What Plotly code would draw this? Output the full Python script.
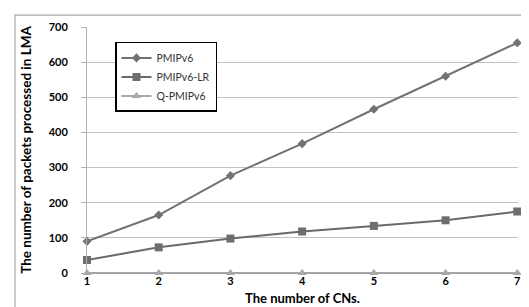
import plotly.graph_objects as go

cns = [1, 2, 3, 4, 5, 6, 7]
pmipv6 = [90, 165, 277, 368, 466, 560, 655]
pmipv6_lr = [37, 73, 98, 118, 134, 150, 175]
q_pmipv6 = [0, 0, 0, 0, 0, 0, 0]

W, H = 529, 307
L, R, T, B = 79, 19, 18, 41
pw, ph = W - L - R, H - T - B

def px(x):
    return (x - L) / pw

def py(y):
    return (H - B - y) / ph

FONT = "Lato"

fig = go.Figure()
fig.add_trace(go.Scatter(x=cns, y=pmipv6, name="PMIPv6", mode="lines+markers",
                         line=dict(color="#727272", width=2),
                         marker=dict(symbol="diamond", size=7, color="#727272"),
                         cliponaxis=False))
fig.add_trace(go.Scatter(x=cns, y=pmipv6_lr, name="PMIPv6-LR", mode="lines+markers",
                         line=dict(color="#6a6a6a", width=2),
                         marker=dict(symbol="square", size=8, color="#6e6e6e"),
                         cliponaxis=False))
fig.add_trace(go.Scatter(x=cns, y=q_pmipv6, name="Q-PMIPv6", mode="lines+markers",
                         line=dict(color="#a8a8a8", width=2),
                         marker=dict(symbol="triangle-up", size=8, color="#a8a8a8"),
                         cliponaxis=False))

fig.add_shape(type="rect", xref="paper", yref="paper",
              x0=px(7), x1=px(540), y0=py(320), y1=py(6),
              line=dict(color="#a8a8a8", width=1.2), layer="below")

fig.update_layout(
    width=W, height=H,
    margin=dict(l=L, r=R, t=T, b=B),
    paper_bgcolor="white", plot_bgcolor="white",
    font=dict(family=FONT, color="#000000"),
    showlegend=True,
    legend=dict(x=px(107), y=py(33), xanchor="left", yanchor="top",
                bgcolor="white", bordercolor="#000000", borderwidth=1.5,
                font=dict(family=FONT, size=10.5, color="#333"),
                itemwidth=30, tracegroupgap=0),
    xaxis=dict(range=[1, 7.01], tickvals=cns, showgrid=False,
               showline=False, zeroline=False,
               tickfont=dict(family=FONT, size=11, color="#000", weight="bold"),
               title=dict(text="The number of CNs.", standoff=7,
                          font=dict(family=FONT, size=13, color="#000", weight="bold"))),
    yaxis=dict(range=[0, 700], dtick=100, showgrid=True, gridcolor="#c0c0c0",
               gridwidth=1, zeroline=True, zerolinecolor="#a0a0a0", zerolinewidth=1.5,
               showline=True, linecolor="#b0b0b0", linewidth=1,
               ticks="outside", ticklen=5, tickcolor="#b0b0b0",
               ticklabelstandoff=11,
               tickfont=dict(family=FONT, size=11, color="#000", weight="bold"),
               title=dict(text="The number of packets processed in LMA", standoff=13,
                          font=dict(family=FONT, size=13.5, color="#000", weight="bold"))),
)

fig.write_html("out.html")
